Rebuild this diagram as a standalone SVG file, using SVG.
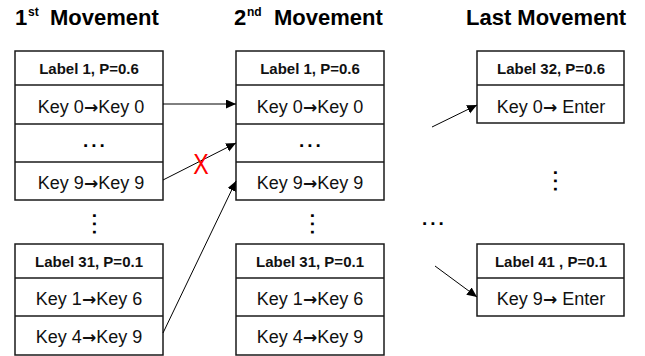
<svg xmlns="http://www.w3.org/2000/svg" width="645" height="356" viewBox="0 0 645 356">
  <style>
    .box { fill: #ffffff; stroke: #1a1a1a; stroke-width: 1.5; }
    .sep { stroke: #1a1a1a; stroke-width: 1.5; }
    .title { font-family: "Liberation Sans", Arial, sans-serif; font-weight: bold; font-size: 22px; fill: #000; }
    .sup { font-family: "Liberation Sans", Arial, sans-serif; font-weight: bold; font-size: 12px; fill: #000; }
    .lbl { font-family: "Liberation Sans", Arial, sans-serif; font-weight: bold; font-size: 15px; fill: #111; text-anchor: middle; }
    .key { font-family: "Liberation Sans", Arial, sans-serif; font-size: 18px; fill: #111; text-anchor: middle; }
    .arr { font-family: "DejaVu Sans", sans-serif; font-weight: bold; font-size: 17px; }
    .dots { font-family: "Liberation Sans", Arial, sans-serif; font-weight: bold; font-size: 19px; letter-spacing: 3px; fill: #000; }
    .conn { stroke: #000; stroke-width: 1; fill: none; marker-end: url(#head); }
    .cross { font-family: "Liberation Sans", Arial, sans-serif; font-size: 29px; fill: #ff0000; text-anchor: middle; }
  </style>
  <defs>
    <marker id="head" markerUnits="userSpaceOnUse" markerWidth="11" markerHeight="10" refX="10" refY="4.5" orient="auto">
      <path d="M0,0 L10,4.5 L0,9 z" fill="#000"/>
    </marker>
  </defs>

  <rect width="645" height="356" fill="#ffffff"/>

  <!-- column headings -->
  <g id="heading-1">
    <text class="title" x="15" y="25">1</text>
    <text class="sup" x="28" y="16">st</text>
    <text class="title" x="50" y="25">Movement</text>
  </g>
  <g id="heading-2">
    <text class="title" x="234" y="25">2</text>
    <text class="sup" x="247" y="16">nd</text>
    <text class="title" x="274" y="25">Movement</text>
  </g>
  <g id="heading-3">
    <text class="title" x="466" y="25">Last Movement</text>
  </g>

  <!-- first movement: label 1 -->
  <g id="m1-label1">
    <rect class="box" x="15" y="51" width="148" height="149"/>
    <line class="sep" x1="15" y1="85" x2="163" y2="85"/>
    <line class="sep" x1="15" y1="124" x2="163" y2="124"/>
    <line class="sep" x1="15" y1="162" x2="163" y2="162"/>
    <text class="lbl" x="89" y="74">Label 1, P=0.6</text>
    <text class="key" x="91" y="113">Key 0<tspan class="arr">→</tspan>Key 0</text>
    <text class="dots" x="83" y="147">...</text>
    <text class="key" x="91" y="189">Key 9<tspan class="arr">→</tspan>Key 9</text>
  </g>
  <g id="m1-vdots">
    <text class="dots" transform="translate(93,213) rotate(90)">...</text>
  </g>
  <!-- first movement: label 31 -->
  <g id="m1-label31">
    <rect class="box" x="15" y="244" width="148" height="111"/>
    <line class="sep" x1="15" y1="278" x2="163" y2="278"/>
    <line class="sep" x1="15" y1="316" x2="163" y2="316"/>
    <text class="lbl" x="89" y="267">Label 31, P=0.1</text>
    <text class="key" x="89" y="305">Key 1<tspan class="arr">→</tspan>Key 6</text>
    <text class="key" x="89" y="343">Key 4<tspan class="arr">→</tspan>Key 9</text>
  </g>

  <!-- second movement: label 1 -->
  <g id="m2-label1">
    <rect class="box" x="236" y="51" width="148" height="149"/>
    <line class="sep" x1="236" y1="85" x2="384" y2="85"/>
    <line class="sep" x1="236" y1="124" x2="384" y2="124"/>
    <line class="sep" x1="236" y1="162" x2="384" y2="162"/>
    <text class="lbl" x="310" y="74">Label 1, P=0.6</text>
    <text class="key" x="310" y="113">Key 0<tspan class="arr">→</tspan>Key 0</text>
    <text class="dots" x="299" y="147">...</text>
    <text class="key" x="310" y="189">Key 9<tspan class="arr">→</tspan>Key 9</text>
  </g>
  <g id="m2-vdots">
    <text class="dots" transform="translate(311,213) rotate(90)">...</text>
  </g>
  <!-- second movement: label 31 -->
  <g id="m2-label31">
    <rect class="box" x="236" y="244" width="148" height="111"/>
    <line class="sep" x1="236" y1="278" x2="384" y2="278"/>
    <line class="sep" x1="236" y1="316" x2="384" y2="316"/>
    <text class="lbl" x="310" y="267">Label 31, P=0.1</text>
    <text class="key" x="310" y="305">Key 1<tspan class="arr">→</tspan>Key 6</text>
    <text class="key" x="310" y="343">Key 4<tspan class="arr">→</tspan>Key 9</text>
  </g>

  <!-- gap between second and last movement -->
  <g id="mid-dots">
    <text class="dots" x="422" y="225">...</text>
  </g>

  <!-- last movement -->
  <g id="m3-label32">
    <rect class="box" x="477" y="51" width="147" height="72"/>
    <line class="sep" x1="477" y1="85" x2="624" y2="85"/>
    <text class="lbl" x="551" y="74">Label 32, P=0.6</text>
    <text class="key" x="551" y="113">Key 0<tspan class="arr">→</tspan> Enter</text>
  </g>
  <g id="m3-vdots">
    <text class="dots" transform="translate(554,170) rotate(90)">...</text>
  </g>
  <g id="m3-label41">
    <rect class="box" x="477" y="244" width="147" height="72"/>
    <line class="sep" x1="477" y1="278" x2="624" y2="278"/>
    <text class="lbl" x="551" y="267">Label 41 , P=0.1</text>
    <text class="key" x="551" y="305">Key 9<tspan class="arr">→</tspan> Enter</text>
  </g>

  <!-- transitions -->
  <g id="connectors">
    <line class="conn" x1="163" y1="104" x2="236" y2="104"/>
    <line class="conn" x1="163" y1="180" x2="236" y2="143"/>
    <line class="conn" x1="163" y1="333" x2="236" y2="181"/>
    <line class="conn" x1="432" y1="127" x2="477" y2="105"/>
    <line class="conn" x1="435" y1="266" x2="477" y2="297"/>
    <text class="cross" transform="translate(201,174) scale(0.8,1)">X</text>
  </g>
</svg>
